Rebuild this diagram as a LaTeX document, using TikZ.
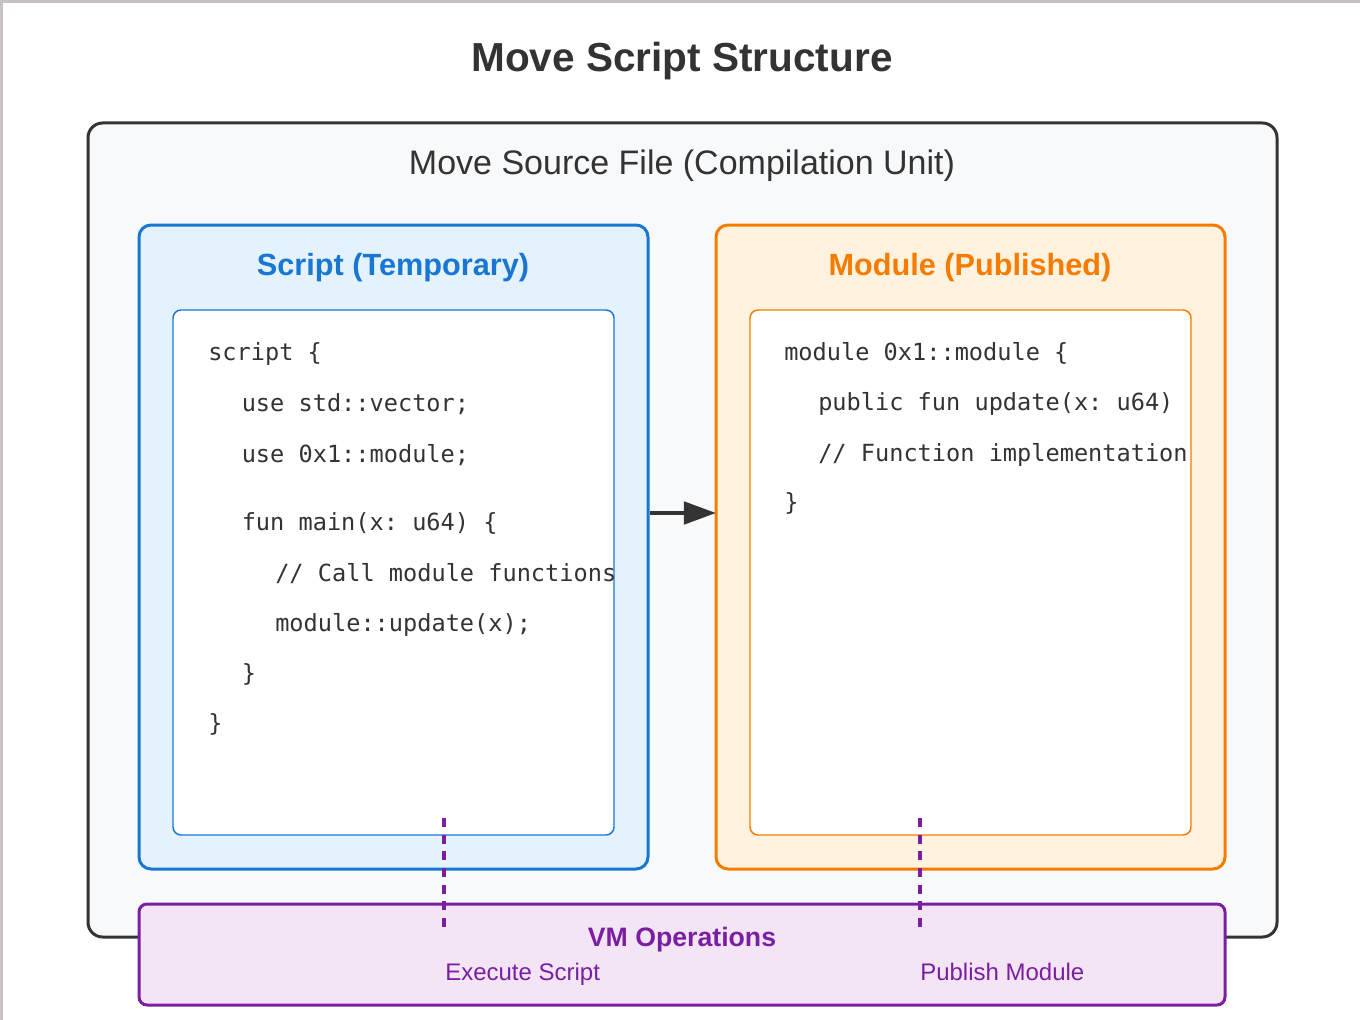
\documentclass[tikz,border=0pt]{standalone}
\usepackage{fontspec}
\setmainfont{Liberation Sans}
\setmonofont{DejaVu Sans Mono}
\usetikzlibrary{fit,arrows.meta}
\definecolor{darkline}{HTML}{333333}
\definecolor{outerfill}{HTML}{F8F9FA}
\definecolor{blueline}{HTML}{1976D2}
\definecolor{bluefill}{HTML}{E3F2FD}
\definecolor{orangeline}{HTML}{F57C00}
\definecolor{orangefill}{HTML}{FFF3E0}
\definecolor{purpleline}{HTML}{7B1FA2}
\definecolor{purplefill}{HTML}{F3E5F5}
\definecolor{frameline}{HTML}{C6C2C6}
\begin{document}
\begin{tikzpicture}[x=0.75pt,y=-0.75pt,
  box/.style={inner sep=0pt, rounded corners=#1},
  codetext/.style={anchor=base west, inner sep=0pt, text=darkline, font=\fontsize{17.7pt}{21pt}\selectfont\ttfamily},
  boxtitle/.style={inner sep=0pt, font=\fontsize{23pt}{27pt}\selectfont\bfseries},
  oplabel/.style={anchor=base west, inner sep=0pt, text=purpleline, font=\fontsize{18pt}{22pt}\selectfont},
  flowarrow/.style={draw=darkline, line width=2.3pt, -{Triangle[length=24pt,width=17pt]}},
  vmlink/.style={draw=purpleline, line width=2.4pt, dash pattern=on 6.75pt off 5.75pt}
]
\useasboundingbox (0,0) rectangle (1360,1020);
\fill[white] (0,0) rectangle (1360,1020);
\fill[frameline] (0,0) rectangle (1360,3);
\fill[frameline] (0,0) rectangle (3,1020);

% title
\node[inner sep=0pt, text=darkline, font=\fontsize{30.4pt}{36pt}\selectfont\bfseries] (title) at (682,61) {Move Script Structure};

% outer compilation unit
\node[box=11pt, draw=darkline, fill=outerfill, line width=2.25pt, fit={(88,123)(1277,937)}] (outer) {};
\node[inner sep=0pt, text=darkline, font=\fontsize{25.5pt}{30pt}\selectfont] (outertitle) at (682,166) {Move Source File (Compilation Unit)};

% script box
\node[box=9pt, draw=blueline, fill=bluefill, line width=2.25pt, fit={(139,225)(648,869)}] (script) {};
\node[boxtitle, text=blueline] (scripttitle) at (393,268) {Script (Temporary)};
\node[box=6pt, draw=blueline, fill=white, line width=1.1pt, fit={(173,310)(614,835)}] (scriptcode) {};
\node[codetext] (s1) at (208,360) {script \{};
\node[codetext] (s2) at (241.5,411) {use std::vector;};
\node[codetext] (s3) at (241.5,462) {use 0x1::module;};
\node[codetext] (s4) at (241.5,530) {fun main(x: u64) \{};
\node[codetext] (s5) at (275,581) {// Call module functions};
\node[codetext] (s6) at (275,631.5) {module::update(x);};
\node[codetext] (s7) at (241.5,681) {\}};
\node[codetext] (s8) at (208,731) {\}};

% module box
\node[box=9pt, draw=orangeline, fill=orangefill, line width=2.25pt, fit={(716,225)(1225,869)}] (module) {};
\node[boxtitle, text=orangeline] (moduletitle) at (970,268) {Module (Published)};
\node[box=6pt, draw=orangeline, fill=white, line width=1.1pt, fit={(750,310)(1191,835)}] (modulecode) {};
\node[codetext] (m1) at (784,360) {module 0x1::module \{};
\node[codetext] (m2) at (818,410) {public fun update(x: u64)};
\node[codetext] (m3) at (818,461.5) {// Function implementation};
\node[codetext] (m4) at (784,510) {\}};

% arrow script -> module
\coordinate (arrowlevel) at (0,513);
\draw[flowarrow] (script.east |- arrowlevel) -- ([xshift=1pt]module.west |- arrowlevel);

% VM operations
\node[box=6pt, draw=purpleline, fill=purplefill, line width=2.25pt, fit={(139,904)(1225,1005)}] (vm) {};
\node[inner sep=0pt, text=purpleline, font=\fontsize{20pt}{24pt}\selectfont\bfseries] (vmtitle) at (682,940) {VM Operations};
\node[oplabel] (exec) at (445,980) {Execute Script};
\node[oplabel] (publish) at (920,980) {Publish Module};

% dashed links
\coordinate (d1top) at (444,818);
\coordinate (d1bot) at (444,928);
\coordinate (d2top) at (920,818);
\coordinate (d2bot) at (920,928);
\draw[vmlink] (d1top) -- (d1bot);
\draw[vmlink] (d2top) -- (d2bot);
\end{tikzpicture}
\end{document}
